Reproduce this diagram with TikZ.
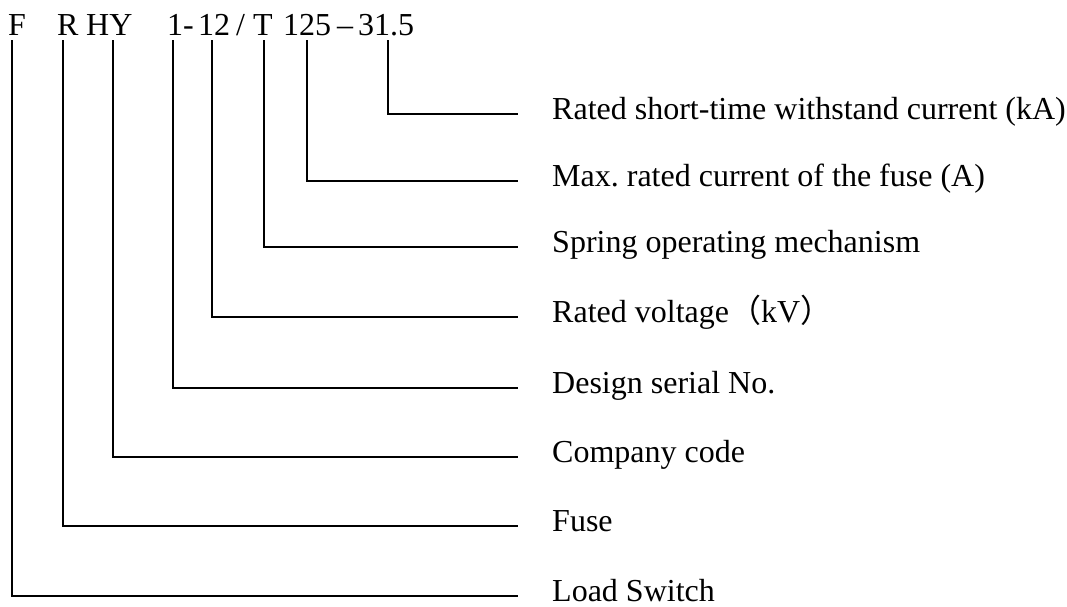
\documentclass[tikz,border=0pt]{standalone}
\usepackage{fontspec}
\setmainfont{Liberation Serif}
\newfontfamily\cjk{Noto Sans CJK SC}
\frenchspacing
\begin{document}
\begin{tikzpicture}[x=1pt,y=-1pt,
  code/.style={inner sep=0pt, anchor=base west, text depth=0pt, font=\fontsize{32}{38}\selectfont},
  lab/.style={inner sep=0pt, anchor=base west, text height=10pt, text depth=0pt, font=\fontsize{32}{38}\selectfont},
  conn/.style={line width=1.7pt, shorten >=34pt}]
\useasboundingbox (0,0) rectangle (1067,606);
% model code
\node[code] (F) at (8,35) {F};
\node[code] (R) at (57,35) {R};
\node[code] (HY) at (86,35) {HY};
\node[code] (n1) at (167,35) {1-};
\node[code] (n12) at (198,35) {12};
\node[code] (sl) at (236,35) {/};
\node[code] (T) at (253,35) {T};
\node[code] (n125) at (283,35) {125};
\node[code] (da) at (337,35) {–};
\node[code] (n315) at (358,35) {31.5};
% labels
\node[lab] (l1) at (552,119) {Rated short-time withstand current (kA)};
\node[lab] (l2) at (552,186) {Max. rated current of the fuse (A)};
\node[lab] (l3) at (552,252) {Spring operating mechanism};
\node[lab] (l4) at (552,322) {Rated voltage{\cjk （}kV{\cjk ）}};
\node[lab] (l5) at (552,393) {Design serial No.};
\node[lab] (l6) at (552,462) {Company code};
\node[lab] (l7) at (552,531) {Fuse};
\node[lab] (l8) at (552,601) {Load Switch};
% connectors
\draw[conn] ([shift={(30,5)}]n315.south west) |- (l1.west);
\draw[conn] ([shift={(24,5)}]n125.south west) |- (l2.west);
\draw[conn] ([shift={(11,5)}]T.south west) |- (l3.west);
\draw[conn] ([shift={(14,5)}]n12.south west) |- (l4.west);
\draw[conn] ([shift={(6,5)}]n1.south west) |- (l5.west);
\draw[conn] ([shift={(27,5)}]HY.south west) |- (l6.west);
\draw[conn] ([shift={(6,5)}]R.south west) |- (l7.west);
\draw[conn] ([shift={(4,5)}]F.south west) |- (l8.west);
\end{tikzpicture}
\end{document}
